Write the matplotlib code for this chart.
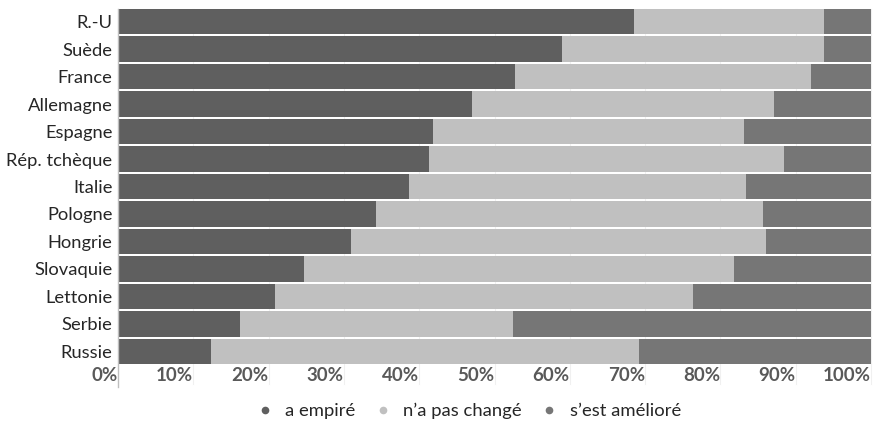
import matplotlib
matplotlib.use("Agg")
import matplotlib.pyplot as plt
import numpy as np
from matplotlib.lines import Line2D

plt.rcParams['font.family'] = ['Lato', 'DejaVu Sans']

countries = ["R.-U", "Suède", "France", "Allemagne", "Espagne", "Rép. tchèque",
             "Italie", "Pologne", "Hongrie", "Slovaquie", "Lettonie", "Serbie", "Russie"]
# shares in percent per country
worse = [68.5, 59.0, 52.7, 47.0, 41.8, 41.3, 38.7, 34.2, 31.0, 24.7, 20.9, 16.2, 12.3]
unchanged = [25.3, 34.8, 39.3, 40.1, 41.3, 47.1, 44.7, 51.5, 55.1, 57.1, 55.5, 36.3, 56.9]
improved = [100 - w - u for w, u in zip(worse, unchanged)]

series_labels = ["a empiré", "n\u2019a pas changé", "s\u2019est amélioré"]
colors = ["#5f5f5f", "#c0c0c0", "#767676"]
xticks = list(range(0, 101, 10))

fig = plt.figure(figsize=(8.73, 4.26), dpi=100)
ax = fig.add_axes([118 / 873, 1 - 364 / 426, (871 - 118) / 873, (364 - 9) / 426])

y = np.arange(len(countries))[::-1]
h = 0.91
left = np.zeros(len(countries))
for vals, col in zip([worse, unchanged, improved], colors):
    ax.barh(y, vals, left=left, height=h, color=col, edgecolor='none', zorder=2)
    left = left + np.array(vals)

ax.set_xlim(0, 100)
ax.set_ylim(-h / 2, len(countries) - 1 + h / 2)
ax.set_yticks(y)
ax.set_yticklabels(countries, fontsize=13.2, color="#262626")
ax.tick_params(axis='y', length=0, pad=4)

ax.set_xticks(xticks)
ax.set_xticklabels([f"{t}%" for t in xticks], fontsize=13.5, color="#595959",
                   fontweight='bold', ha='right')
ax.tick_params(axis='x', length=0, pad=2)

for t in xticks[1:]:
    ax.axvline(t, ymin=-0.055, ymax=1, color="#f0f0f0", lw=0.8, zorder=1, clip_on=False)
ax.axvline(0, ymin=-0.065, ymax=1, color="#bfbfbf", lw=1.0, zorder=3, clip_on=False)

for s in ax.spines.values():
    s.set_visible(False)

handles = [Line2D([], [], marker='o', linestyle='none', markersize=5.5,
                  markerfacecolor=c, markeredgecolor='none') for c in colors]
fig.legend(handles, series_labels, loc='center', bbox_to_anchor=(0.531, 1 - 411 / 426),
           ncol=3, frameon=False, fontsize=13.3, handletextpad=0.1, columnspacing=0.5,
           labelcolor="#262626")

fig.savefig("out.png", dpi=100, facecolor='white')
